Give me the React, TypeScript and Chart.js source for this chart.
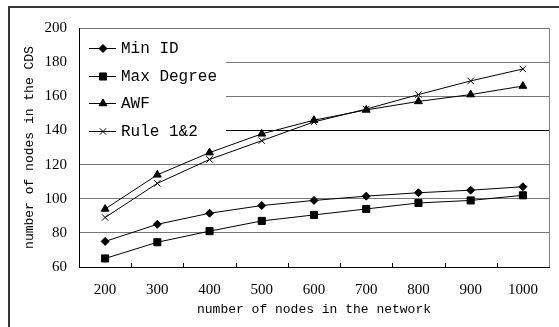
import React, { useEffect, useRef } from 'react';
import { Chart, registerables } from 'chart.js';
import { drawPoint } from 'chart.js/helpers';

Chart.register(...registerables);

const categories = ['200', '300', '400', '500', '600', '700', '800', '900', '1000'];
const minId = [75, 85, 91.5, 96, 99, 101.5, 103.5, 105, 107];
const maxDegree = [65, 74.5, 81, 87, 90.5, 94, 97.5, 99, 102];
const awf = [94, 114, 127, 138, 146, 152, 157, 161, 166];
const rule12 = [89, 109, 123, 134, 145, 152.5, 161, 169, 176];
const seriesNames = ['Min ID', 'Max Degree', 'AWF', 'Rule 1&2'];
const seriesValues = [minId, maxDegree, awf, rule12];
const markerStyles = ['rectRot', 'rect', 'triangle', 'crossRot'];
const markerRadius = [4, 5, 4.5, 4.5];
const yMin = 60;
const yMax = 200;
const yStep = 20;
const xTitle = 'number of nodes in the network';
const yTitle = 'number of nodes in the CDS';

const MONO = "'Liberation Mono', 'DejaVu Sans Mono', monospace";
const SERIF = "'Liberation Serif', 'DejaVu Serif', serif";

const decorPlugin = {
  id: 'decor',
  beforeDatasetsDraw(chart: any) {
    const { ctx, chartArea } = chart;
    ctx.save();
    ctx.fillStyle = '#ffffff';
    ctx.fillRect(chartArea.left + 1, chartArea.top + 1, 146, 120);
    ctx.restore();
  },
  afterDatasetsDraw(chart: any) {
    const { ctx, chartArea } = chart;
    ctx.save();
    // legend
    const rowY = [48, 76, 103, 131];
    chart.data.datasets.forEach((ds: any, i: number) => {
      const y = rowY[i];
      ctx.strokeStyle = '#000';
      ctx.fillStyle = '#000';
      ctx.lineWidth = 1;
      ctx.beginPath();
      ctx.moveTo(chartArea.left + 10, y + 0.5);
      ctx.lineTo(chartArea.left + 37, y + 0.5);
      ctx.stroke();
      drawPoint(ctx, { pointStyle: ds.pointStyle, radius: ds.pointRadius, rotation: 0, borderWidth: 1 } as any, chartArea.left + 24, y + 0.5);
      ctx.font = `16px ${MONO}`;
      ctx.textBaseline = 'middle';
      ctx.textAlign = 'left';
      ctx.fillStyle = '#000';
      ctx.fillText(ds.label, chartArea.left + 42, y + 1);
    });
    ctx.restore();
  },
  afterDraw(chart: any) {
    const { ctx, chartArea } = chart;
    ctx.save();
    // right border of plot
    ctx.strokeStyle = '#808080';
    ctx.lineWidth = 1;
    ctx.beginPath();
    ctx.moveTo(Math.round(chartArea.right) + 0.5, chartArea.top);
    ctx.lineTo(Math.round(chartArea.right) + 0.5, chartArea.bottom);
    ctx.stroke();
    // inward category ticks
    const n = categories.length;
    const w = (chartArea.right - chartArea.left) / n;
    ctx.strokeStyle = '#000';
    ctx.beginPath();
    for (let i = 1; i < n; i++) {
      const x = Math.round(chartArea.left + i * w) + 0.5;
      ctx.moveTo(x, chartArea.bottom);
      ctx.lineTo(x, chartArea.bottom - 4);
    }
    ctx.stroke();
    // outer frame (top and left)
    ctx.strokeStyle = '#383838';
    ctx.lineWidth = 2;
    ctx.beginPath();
    ctx.moveTo(9, 327);
    ctx.lineTo(9, 7);
    ctx.lineTo(559, 7);
    ctx.stroke();
    ctx.restore();
  },
};

export default function App() {
  const ref = useRef<HTMLCanvasElement | null>(null);
  useEffect(() => {
    if (!ref.current) return;
    const chart = new Chart(ref.current, {
      type: 'line',
      data: {
        labels: categories,
        datasets: seriesNames.map((name, i) => ({
          label: name,
          data: seriesValues[i],
          borderColor: '#000',
          backgroundColor: '#000',
          borderWidth: 1,
          pointStyle: markerStyles[i] as any,
          pointRadius: markerRadius[i],
          pointBorderWidth: 1,
          pointBorderColor: '#000',
          pointBackgroundColor: '#000',
          tension: 0,
          fill: false,
        })),
      },
      options: {
        responsive: false,
        animation: false,
        devicePixelRatio: 1,
        layout: { padding: { left: 0, top: 28, right: 10, bottom: 0 } },
        plugins: { legend: { display: false }, tooltip: { enabled: false } },
        scales: {
          x: {
            offset: true,
            grid: { display: false, drawTicks: false },
            border: { display: true, color: '#000', width: 1 },
            ticks: { color: '#000', font: { family: SERIF, size: 15 }, padding: 14, maxRotation: 0 },
            title: { display: true, text: xTitle, color: '#000', font: { family: MONO, size: 13 }, padding: { top: 0, bottom: 10 } },
            afterFit: (s: any) => { s.height = 60; },
          },
          y: {
            min: yMin,
            max: yMax,
            grid: {
              drawTicks: false,
              color: (c: any) => (c.tick && c.tick.value === 140 ? '#000' : '#777'),
            },
            border: { display: true, color: '#000', width: 1 },
            ticks: { stepSize: yStep, color: '#000', font: { family: SERIF, size: 15 }, padding: 12 },
            title: { display: true, text: yTitle, color: '#000', font: { family: MONO, size: 13 }, padding: { top: 22, bottom: 0 } },
            afterFit: (s: any) => { s.width = 79; },
          },
        },
      },
      plugins: [decorPlugin],
    });
    return () => chart.destroy();
  }, []);
  return (
    <div style={{ position: 'absolute', left: 0, top: 0, width: 559, height: 327, background: '#fff' }}>
      <canvas ref={ref} width={559} height={327} style={{ display: 'block' }} />
    </div>
  );
}
